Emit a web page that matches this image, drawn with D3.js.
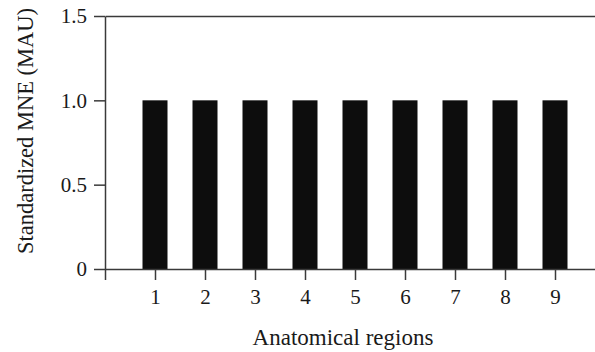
<!DOCTYPE html>
<html>
<head>
<meta charset="utf-8">
<script src="https://cdn.jsdelivr.net/npm/d3@7"></script>
<style>
  html, body { margin: 0; padding: 0; background: #fff; }
  svg text { font-family: "Liberation Serif", "Times New Roman", serif; fill: #1a1a1a; }
</style>
</head>
<body>
<svg id="chart"></svg>
<script>
// Data
const regions = [1, 2, 3, 4, 5, 6, 7, 8, 9];
const mau = [1, 1, 1, 1, 1, 1, 1, 1, 1];
const yTicks = [0, 0.5, 1.0, 1.5];

const width = 595;
const height = 352;
const svg = d3.select('#chart').attr('width', width).attr('height', height);

const x = d3.scaleLinear().domain([0, 9.8]).range([105, 595]);
const y = d3.scaleLinear().domain([0, 1.5]).range([269, 16]);
const barWidth = 0.5; // in region units
const lineColor = '#3a3a3a';

// Bars
svg.append('g')
  .selectAll('rect')
  .data(regions.map((r, i) => ({ r, v: mau[i] })))
  .join('rect')
  .attr('x', d => x(d.r - barWidth / 2))
  .attr('y', d => y(d.v))
  .attr('width', x(barWidth) - x(0))
  .attr('height', d => y(0) - y(d.v))
  .attr('fill', '#0d0d0d');

// Y axis
const yAxis = d3.axisLeft(y)
  .tickValues(yTicks)
  .tickSize(11)
  .tickSizeOuter(0)
  .tickPadding(7)
  .tickFormat(d => d === 0 ? '0' : d.toFixed(1));
const yG = svg.append('g').attr('transform', `translate(${x(0)},0)`).call(yAxis);
yG.attr('font-size', null);
yG.selectAll('text').attr('font-size', 21).style('font-size', '21px');

// X axis (tick at 0 is the continuation of the y axis)
const xAxis = d3.axisBottom(x)
  .tickValues([0].concat(regions))
  .tickSize(11)
  .tickSizeOuter(0)
  .tickPadding(9)
  .tickFormat(d => d === 0 ? '' : d);
const xG = svg.append('g').attr('transform', `translate(0,${y(0)})`).call(xAxis);
xG.attr('font-size', null);
xG.selectAll('text').attr('font-size', 21).style('font-size', '21px');

// Top frame line at 1.5
const topAxis = d3.axisTop(x).tickValues([]).tickSizeOuter(0);
svg.append('g').attr('transform', `translate(0,${y(1.5)})`).call(topAxis);

svg.selectAll('.domain, .tick line')
  .attr('stroke', lineColor)
  .attr('stroke-width', 1.5);

// Axis titles
svg.append('text')
  .attr('x', 343)
  .attr('y', 345)
  .attr('text-anchor', 'middle')
  .style('font-size', '23px')
  .text('Anatomical regions');

svg.append('text')
  .attr('transform', 'translate(33,131) rotate(-90)')
  .attr('text-anchor', 'middle')
  .style('font-size', '22.5px')
  .text('Standardized MNE (MAU)');
</script>
</body>
</html>
